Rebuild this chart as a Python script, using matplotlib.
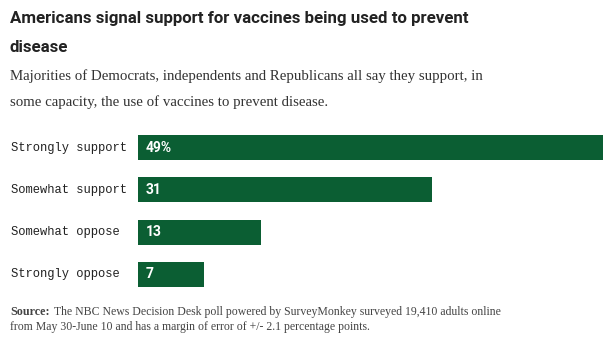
import matplotlib
matplotlib.use("Agg")
import matplotlib.pyplot as plt

categories = ["Strongly support", "Somewhat support", "Somewhat oppose", "Strongly oppose"]
values = [49, 31, 13, 7]
value_labels = ["49%", "31", "13", "7"]

title_lines = ["Americans signal support for vaccines being used to prevent", "disease"]
subtitle_lines = ["Majorities of Democrats, independents and Republicans all say they support, in",
                  "some capacity, the use of vaccines to prevent disease."]
source_label = "Source:"
source_lines = ["The NBC News Decision Desk poll powered by SurveyMonkey surveyed 19,410 adults online",
                "from May 30-June 10 and has a margin of error of +/- 2.1 percentage points."]

W, H = 610, 344
fig = plt.figure(figsize=(W / 100, H / 100), dpi=100)
fig.patch.set_facecolor("white")
renderer = fig.canvas.get_renderer()

def fx(px):
    return px / W

def fy(py):
    return 1 - py / H

def fit(t, target_w):
    bb = t.get_window_extent(renderer)
    t.set_fontsize(t.get_fontsize() * target_w / bb.width)

green = "#0b5e33"
sans = ["Roboto", "DejaVu Sans"]
serif = ["Liberation Serif", "DejaVu Serif"]

t1 = fig.text(fx(10), fy(18), title_lines[0], ha="left", va="center", fontsize=13, fontweight="bold",
              family=sans, color="#222222")
fit(t1, 462)
fs = t1.get_fontsize()
fig.text(fx(10), fy(47), title_lines[1], ha="left", va="center", fontsize=fs, fontweight="bold",
         family=sans, color="#222222")

s1 = fig.text(fx(10), fy(76), subtitle_lines[0], ha="left", va="center", fontsize=12,
              family=serif, color="#333333")
fit(s1, 472)
fig.text(fx(10), fy(102), subtitle_lines[1], ha="left", va="center", fontsize=s1.get_fontsize(),
         family=serif, color="#333333")

bar_top, bar_bottom = 135, 287
ax = fig.add_axes([fx(138), fy(bar_bottom), fx(603) - fx(138), (bar_bottom - bar_top) / H])
h = 25 / ((bar_bottom - bar_top - 25) / 3)
ypos = list(range(len(categories)))
ax.barh(ypos, values, height=h, color=green)
ax.set_xlim(0, max(values))
ax.set_ylim(len(categories) - 1 + h / 2, -h / 2)
ax.axis("off")
for y, v, lab in zip(ypos, values, value_labels):
    ax.text(0.8, y, lab, ha="left", va="center", color="white", fontsize=10,
            fontweight="bold", family=sans)
for y, c in zip(ypos, categories):
    ax.annotate(c, xy=(0, y), xycoords=("axes fraction", "data"), xytext=(11 - 138, 0),
                textcoords="offset pixels", ha="left", va="center", fontsize=8.7,
                family=["Liberation Mono", "DejaVu Sans Mono"], color="#222222")

r1 = fig.text(fx(60), fy(312), source_lines[0], ha="left", va="center", fontsize=9.5,
              family=serif, color="#444444")
fit(r1, 446)
sfs = r1.get_fontsize()
sl = fig.text(fx(10), fy(312), source_label, ha="left", va="center", fontsize=sfs + 0.3,
              fontweight="bold", family=serif, color="#444444")
lw = sl.get_window_extent(renderer).width
r1.set_x(fx(10 + lw + 4))
fig.text(fx(10), fy(327), source_lines[1], ha="left", va="center", fontsize=sfs,
         family=serif, color="#444444")

fig.savefig("out.png", dpi=100, facecolor="white")
